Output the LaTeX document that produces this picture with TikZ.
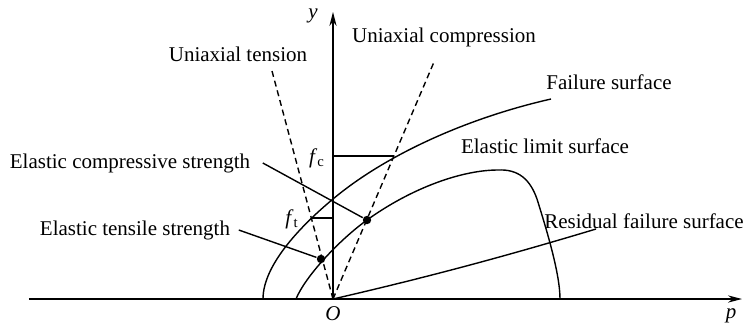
\documentclass[tikz,border=0pt]{standalone}
\usepackage{fontspec}
\setmainfont{Liberation Serif}
\usetikzlibrary{arrows.meta}

\begin{document}
\begin{tikzpicture}[x=0.5pt,y=0.5pt,>={Stealth[length=7pt,width=3.6pt]},line width=0.7pt]
  \tikzstyle{txt}=[inner sep=0pt,font=\fontsize{10.5}{12}\selectfont]
  \tikzstyle{dot}=[circle,fill,inner sep=0pt,minimum size=4.2pt]
  \tikzstyle{ray}=[dash pattern=on 3pt off 2pt]
  \useasboundingbox (-333,-30) rectangle (415,299);
  % axes
  \coordinate (o) at (0,0);
  \coordinate (pstart) at (-304,0);
  \coordinate (ptip) at (409,0);
  \coordinate (ytip) at (0,287);
  \draw[->] (pstart)--(ptip);
  \draw[->] (o)--(ytip);
  \node[txt] (ylab) at (-20,283) {\textit{y}};
  \node[txt] (plab) at (398,-17) {\textit{p}};
  \node[txt] (olab) at (0,-15) {\textit{O}};
  % uniaxial paths
  \coordinate (tend) at (-61,228);
  \coordinate (cend) at (101,237);
  \draw[ray] (o)--(tend);
  \draw[ray] (o)--(cend);
  \node[txt] (tension) at (-95,245) {Uniaxial tension};
  \node[txt] (compr) at (111,262) {Uniaxial compression};
  % failure surface
  \draw (-70,0) .. controls (-70,35) and (-30,75) .. (0,100)
    .. controls (50,142) and (130,180) .. (218,200);
  \node[txt] (fail) at (276,217) {Failure surface};
  % elastic limit surface
  \draw (-37,0) .. controls (-28,22) and (5,58) .. (34,79)
    .. controls (80,112) and (130,129) .. (165,129)
    .. controls (185,130) and (197,120) .. (204,100)
    .. controls (214,68) and (227,25) .. (227,0);
  \node[txt] (elim) at (212,153) {Elastic limit surface};
  % residual failure surface
  \coordinate (rend) at (263,70);
  \draw (o) .. controls (100,23) and (180,45) .. (rend);
  \node[txt] (resid) at (311,78) {Residual failure surface};
  % strengths
  \coordinate (fcend) at (61,143);
  \coordinate (ftend) at (-21,81);
  \draw (0,143)--(fcend);
  \draw (0,81)--(ftend);
  \node[txt] (fc) at (-16,141) {\textit{f}\textsubscript{c}};
  \node[txt] (ft) at (-41,80) {\textit{f}\textsubscript{t}};
  \node[dot] (tdot) at (-12,40) {};
  \node[dot] (cdot) at (34,79) {};
  \node[txt] (ecs) at (-203,136) {Elastic compressive strength};
  \node[txt] (ets) at (-198,69) {Elastic tensile strength};
  \draw ([xshift=6pt]ecs.east)--(cdot);
  \draw ([xshift=4pt]ets.east)--(tdot);
\end{tikzpicture}
\end{document}
